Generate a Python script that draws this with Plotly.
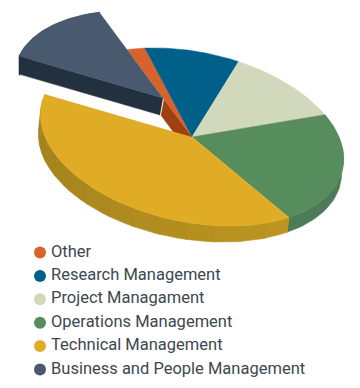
import numpy as np
import plotly.graph_objects as go

categories = ["Other", "Research Management", "Project Managament", "Operations Management",
              "Technical Management", "Business and People Management"]
shares = [2, 10, 12, 22, 40, 14]
top_colors = ["#d9622b", "#01608a", "#d1d8bb", "#578c5c", "#e0ac25", "#4a5a6e"]
text_color = "#3c474f"

W, H = 360, 388
CX, CY, A, B, PHI = 192, 137, 154, 85, np.radians(12)
START = 238.0  # ellipse angle where the first slice begins
EXPLODE = {5: (-29, -39)}
EXPLODE_SCALE = 0.98


def pt(t_deg, off=(0, 0), wall=False, scale=1.0):
    t = np.radians(np.asarray(t_deg, dtype=float))
    u, v = scale * A * np.cos(t), scale * B * np.sin(t)
    x = CX + u * np.cos(PHI) - v * np.sin(PHI) + off[0]
    y = CY + u * np.sin(PHI) + v * np.cos(PHI) + off[1]
    if wall:
        x = x - 2
        y = y + 17 - 3 * np.cos(t)
    return x, y


def poly(fig, x, y, color):
    fig.add_trace(go.Scatter(x=list(x), y=list(y), mode="lines", fill="toself", fillcolor=color,
                             line=dict(width=0.5, color=color), showlegend=False, hoverinfo="skip"))


def mix(c1, c2, f):
    a = [int(c1[i:i + 2], 16) for i in (1, 3, 5)]
    b = [int(c2[i:i + 2], 16) for i in (1, 3, 5)]
    return "rgb(%d,%d,%d)" % tuple(round(p + (q - p) * f) for p, q in zip(a, b))


def wall(fig, t0, t1, color):
    t = np.linspace(t0, t1, 40)
    xa, ya = pt(t)
    xb, yb = pt(t[::-1], wall=True)
    poly(fig, np.r_[xa, xb], np.r_[ya, yb], color)


def top(fig, t0, t1, color, off=(0, 0), scale=1.0):
    t = np.linspace(t0, t1, 60)
    x, y = pt(t, off, scale=scale)
    poly(fig, np.r_[CX + off[0], x], np.r_[CY + off[1], y], color)


edges = START + np.r_[0, np.cumsum(shares)] * 3.6
fig = go.Figure()

# inner wall of the small slice, seen under the exploded one
ex, ey = pt(edges[0])
fx, fy = CX + (ex - CX) * 0.43, CY + (ey - CY) * 0.43
poly(fig, [CX, fx, fx - 3, CX - 3], [CY, fy, fy + 16, CY + 16], "#a03f10")

# outer walls of the lower slices
wall(fig, edges[3], edges[4], "#4d7a58")
bands = np.linspace(edges[4], edges[5], 15)
for i in range(14):
    wall(fig, bands[i] - 0.3, bands[i + 1], mix("#bb951f", "#a07f1e", i / 13))

# upper faces
for i in range(5):
    top(fig, edges[i], edges[i + 1], top_colors[i])

# exploded slice
off = EXPLODE[5]
ax, ay = CX + off[0], CY + off[1]
bx, by = pt(edges[5], off, scale=EXPLODE_SCALE)
t = np.linspace(edges[5], edges[6], 40)
xa, ya = pt(t, off, scale=EXPLODE_SCALE)
xb, yb = pt(t[::-1], off, wall=True, scale=EXPLODE_SCALE)
poly(fig, np.r_[xa, xb + 2], np.r_[ya, yb], "#22303f")
poly(fig, [ax, bx, bx, ax - 3], [ay, by, by + 18, ay + 17], "#22303f")
top(fig, edges[5], edges[6], top_colors[5], off, EXPLODE_SCALE)

# key
rows = 252.5 + 23.4 * np.arange(len(categories))
fig.add_trace(go.Scatter(
    x=[40] * len(categories), y=rows, mode="markers", showlegend=False, hoverinfo="skip",
    marker=dict(size=12, color=top_colors, line=dict(width=0))))
fig.add_trace(go.Scatter(
    x=[51] * len(categories), y=rows, mode="text", text=categories, textposition="middle right",
    showlegend=False, hoverinfo="skip",
    textfont=dict(family="Roboto", size=16.5, color=text_color)))

fig.update_xaxes(range=[0, W], visible=False, fixedrange=True)
fig.update_yaxes(range=[H, 0], visible=False, fixedrange=True)
fig.update_layout(width=W, height=H, margin=dict(l=0, r=0, t=0, b=0),
                  paper_bgcolor="white", plot_bgcolor="white")
fig.write_html("out.html", config={"displayModeBar": False},
               post_script="document.body.style.margin='0';")
